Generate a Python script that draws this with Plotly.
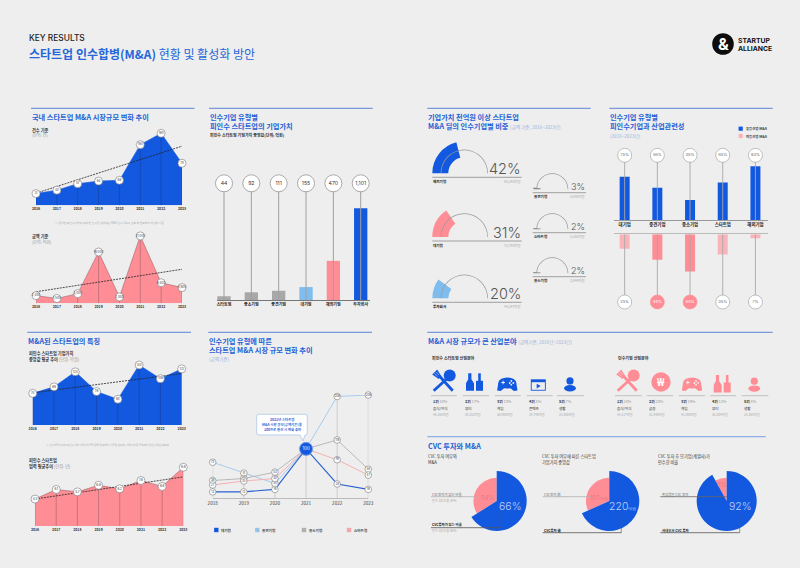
import plotly.graph_objects as go

# page size and colours
W, H = 800, 568
BG = "#eeeeee"
BLUE = "#1359e0"
PINK = "#ff8d96"
PINK_LT = "#f9b4ba"
SKY = "#7fbdee"
GRAY = "#a8a8a8"
HEAD = "#1f62d6"
RULE = "#5f84d8"
FONT = "Noto Sans CJK KR"

# data
years = [2016, 2017, 2018, 2019, 2020, 2021, 2022, 2023]
deal_count = [31, 40, 57, 64, 66, 160, 190, 111]
deal_count_trend = [32, 156]
deal_amount = [2400, 1500, 3000, 16000, 2000, 21000, 6400, 4900]
deal_amount_trend = [3600, 10600]
median_value = [74, 89, 124, 78, 60, 140, 108, 131]
median_value_trend = [75, 120]
founded_age = [4.5, 6.1, 5.7, 6.8, 6.2, 7.6, 6.6, 9.8]
founded_age_trend = [4.5, 8.2]

buyer_types = ["스타트업", "중소기업", "중견기업", "대기업", "해외기업", "투자회사"]
buyer_values = [44, 92, 111, 155, 470, 1101]
buyer_labels = ["44", "92", "111", "155", "470", "1,101"]

big_gauge_names = ["해외기업", "대기업", "투자회사"]
big_gauge_pct = [42, 31, 20]
big_gauge_amount = ["85,245억원", "73,745억원", "44,247억원"]
small_gauge_names = ["중견기업", "스타트업", "중소기업"]
small_gauge_pct = [3, 2, 2]
small_gauge_amount = ["5,840억원", "5,262억원", "3,844억원"]

relation_types = ["대기업", "중견기업", "중소기업", "스타트업", "해외기업"]
same_industry = [75, 56, 35, 65, 93]
other_industry = [25, 44, 64, 35, 7]

line_years = [2018, 2019, 2020, 2021, 2022, 2023]
large_corp = [13, 13, 18, 100, 29, 18]
mid_corp = [73, 51, 30, 100, 206, 209]
small_corp = [36, 40, 53, 100, 118, 59]
startup_corp = [27, 35, 40, 100, 78, 47]

target_rank = ["1위", "2위", "3위", "4위", "5위"]
target_share = ["10%", "17%", "13%", "8%", "7%"]
target_field = ["음식/외식", "뷰티", "게임", "콘텐츠", "생활"]
target_amount = ["46,265억원", "35,352억원", "36,908억원", "24,748억원", "25,086억원"]
buyer_share = ["24%", "20%", "19%", "12%", "8%"]
buyer_field = ["음식/외식", "금융", "게임", "뷰티", "생활"]
buyer_amount = ["54,217억원", "51,846억원", "41,888억원", "33,004억원", "25,505억원"]

cvc_share = [66, 34]
cvc_value = [220, 102]
cvc_parent = [92, 8]

fig = go.Figure()
annotations = []
shapes = []


def fx(x):
    return x / W


def fy(y):
    return 1 - y / H


def txt(x, y, text, size=4, color="#333333", bold=False, anchor="left", family=FONT, weight=None):
    if bold:
        text = "<b>" + text + "</b>"
    font = dict(size=size, color=color, family=family)
    if weight:
        font["weight"] = weight
    annotations.append(dict(x=fx(x), y=fy(y), xref="paper", yref="paper", text=text, showarrow=False,
                            xanchor=anchor, yanchor="middle", font=font, borderpad=0, align=anchor))


def rule(x0, x1, y, color="#777777", width=1.0):
    shapes.append(dict(type="line", xref="paper", yref="paper", x0=fx(x0), x1=fx(x1), y0=fy(y), y1=fy(y),
                       line=dict(color=color, width=width), layer="above"))


def seg(x0, y0, x1, y1, color, width):
    shapes.append(dict(type="line", xref="paper", yref="paper", x0=fx(x0), x1=fx(x1), y0=fy(y0), y1=fy(y1),
                       line=dict(color=color, width=width), layer="above"))


def poly(points, color):
    path = "M " + " L ".join(f"{fx(px):.5f},{fy(py):.5f}" for px, py in points) + " Z"
    shapes.append(dict(type="path", xref="paper", yref="paper", path=path, fillcolor=color,
                       line=dict(width=0), layer="above"))


def oval(cx, cy, rx, ry, color):
    shapes.append(dict(type="circle", xref="paper", yref="paper", x0=fx(cx - rx), x1=fx(cx + rx),
                       y0=fy(cy + ry), y1=fy(cy - ry), fillcolor=color, line=dict(width=0), layer="above"))


def box(x0, y0, x1, y1, color):
    poly([(x0, y0), (x1, y0), (x1, y1), (x0, y1)], color)


def axes(i, left, top, right, bottom, xopts, yopts):
    suffix = "" if i == 1 else str(i)
    base = dict(showgrid=False, zeroline=False, fixedrange=True, automargin=False)
    x = dict(base, domain=[fx(left), fx(right)], anchor="y" + suffix, **xopts)
    y = dict(base, domain=[fy(bottom), fy(top)], anchor="x" + suffix, showticklabels=False, ticks="", **yopts)
    fig.update_layout({"xaxis" + suffix: x, "yaxis" + suffix: y})
    return "x" + suffix, "y" + suffix


def stems(xs, tops, base=0):
    out_x, out_y = [], []
    for a, b in zip(xs, tops):
        out_x += [a, a, None]
        out_y += [base, b, None]
    return out_x, out_y


def circle_trace(xs, ys, labels, xa, ya, size, font_size, fill="white", font_color="#333333", edge="#777777"):
    return go.Scatter(x=xs, y=ys, xaxis=xa, yaxis=ya, mode="markers+text", text=labels,
                      textposition="middle center", textfont=dict(size=font_size, color=font_color, family="Inter"),
                      marker=dict(size=size, color=fill, line=dict(color=edge, width=0.6)),
                      cliponaxis=False, hoverinfo="skip", showlegend=False)


def area_panel(i, left, top, right, bottom, values, trend, fill, stem, edge, labels):
    tick = dict(size=3.5, color="#333333", family=FONT, weight="bold")
    xa, ya = axes(i, left, top, right, bottom,
                  dict(range=[2016, 2023], tickmode="array", tickvals=years, ticktext=[str(v) for v in years],
                       tickfont=tick, ticks="", tickangle=0, showline=False),
                  dict(range=[0, max(values)]))
    fig.add_trace(go.Scatter(x=years, y=values, xaxis=xa, yaxis=ya, mode="lines", fill="tozeroy", fillcolor=fill,
                             line=dict(color=edge, width=0.6), cliponaxis=False, hoverinfo="skip", showlegend=False))
    sx, sy = stems(years, values)
    fig.add_trace(go.Scatter(x=sx, y=sy, xaxis=xa, yaxis=ya, mode="lines", line=dict(color=stem, width=0.6),
                             cliponaxis=False, hoverinfo="skip", showlegend=False))
    fig.add_trace(go.Scatter(x=[years[0], years[-1]], y=trend, xaxis=xa, yaxis=ya, mode="lines",
                             line=dict(color="#222222", width=0.8, dash="2px,1px"),
                             cliponaxis=False, hoverinfo="skip", showlegend=False))
    fig.add_trace(circle_trace(years, values, labels, xa, ya, 8, 3))


# 국내 스타트업 M&A 시장규모 변화 추이
rule(31, 194.5, 108.3, RULE)
txt(31, 117, "국내 스타트업 M&A 시장규모 변화 추이", 7.2, HEAD, True)
txt(31, 130, "건수 기준", 4.2, "#333333", True)
txt(31, 135.3, "(단위: 건)", 4, "#999999")
area_panel(1, 36, 133.3, 182, 205.3, deal_count, deal_count_trend, BLUE, "#17409c", BLUE, [str(v) for v in deal_count])
txt(109, 222.7, "※ 동일한 피인수기업이 여러 번 인수된 경우에는 M&A 건수 1회로 산출 후 연도별로 합산함 기준", 2.8, "#aaaaaa", anchor="center")
txt(31, 236.7, "금액 기준", 4.2, "#333333", True)
txt(31, 242.3, "(단위: 억원)", 4, "#999999")
area_panel(2, 36, 235.9, 182, 303.3, deal_amount, deal_amount_trend, PINK, "#a0656c", "#a0656c",
           [f"{v:,}" for v in deal_amount])

# 인수기업 유형별 피인수 스타트업의 기업가치
rule(209, 372.7, 108.3, RULE)
txt(209, 117, "인수기업 유형별", 7.2, HEAD, True)
txt(209, 126, "피인수 스타트업의 기업가치", 7.2, HEAD, True)
txt(209, 135, "피인수 스타트업 기업가치 중앙값(단위: 억원)", 4, "#333333", True)
xa, ya = axes(3, 216.7, 183.3, 370, 300,
              dict(range=[-0.267, 5.34], type="category", categoryorder="array", categoryarray=buyer_types,
                   tickfont=dict(size=4, color="#222222", family=FONT, weight="bold"), ticks="", tickangle=0,
                   showline=True, linecolor="#777777", linewidth=0.8),
              dict(range=[0, 1400]))
fig.add_trace(go.Bar(x=buyer_types, y=buyer_values, xaxis=xa, yaxis=ya, width=0.487, hoverinfo="skip",
                     marker=dict(color=[GRAY, GRAY, GRAY, SKY, PINK, BLUE], line=dict(width=0)), showlegend=False))
sx, sy = stems(buyer_types, [1400] * len(buyer_types))
fig.add_trace(go.Scatter(x=sx, y=sy, xaxis=xa, yaxis=ya, mode="lines", line=dict(color="#a0a0a0", width=1),
                         hoverinfo="skip", showlegend=False, cliponaxis=False))
fig.add_trace(circle_trace(buyer_types, [1400] * len(buyer_types), buyer_labels, xa, ya, 17, 5.2))

# 기업가치 천억원 이상 스타트업 M&A 딜의 인수기업별 비중
rule(427.3, 590.7, 108.3, RULE)
txt(427.3, 117, "기업가치 천억원 이상 스타트업", 7.2, HEAD, True)
txt(427.3, 126, "M&A 딜의 인수기업별 비중 <span style=\"font-weight:normal;color:#9db3dd;font-size:4.6px\">(금액 기준, 2016~2023년)</span>", 7.2, HEAD, True)


def gauge(cx, cy, pct, color, r_band, hole, r_arc):
    for radius, hole_size, vals, cols in [
        (r_band, hole, [pct, 100 - pct, 100], [color, "rgba(0,0,0,0)", "rgba(0,0,0,0)"]),
        (r_arc, 1 - 0.7 / r_arc, [100, 100], ["#9a9a9a", "rgba(0,0,0,0)"]),
    ]:
        fig.add_trace(go.Pie(values=vals, hole=hole_size, rotation=270, direction="clockwise", sort=False,
                             textinfo="none", hoverinfo="skip", showlegend=False,
                             marker=dict(colors=cols, line=dict(width=0)),
                             domain=dict(x=[fx(cx - radius), fx(cx + radius)], y=[fy(cy + radius), fy(cy - radius)])))


for name, pct, amount, color, cy in zip(big_gauge_names, big_gauge_pct, big_gauge_amount,
                                        [BLUE, PINK, SKY], [173.3, 237, 298.3]):
    gauge(464.3, cy, pct, color, 32, 0.5, 23.7)
    rule(432.3, 521.7, cy + 4, "#8c8c8c", 0.8)
    txt(432.3, cy + 8.2, name, 3.6, "#222222", True)
    txt(521.7, cy + 8.2, amount, 3.4, "#aaaaaa", anchor="right")
    txt(521.7, cy - 5, f"{pct}%", 14.5, "#555555", anchor="right", family="Inter", weight=300)

for name, pct, amount, cy in zip(small_gauge_names, small_gauge_pct, small_gauge_amount, [189.3, 229.3, 273.3]):
    gauge(552.3, cy, pct, "#8a8a8a", 19, 0.62, 16)
    rule(532.7, 586, cy + 3.4, "#8c8c8c", 0.8)
    txt(532.7, cy + 6.8, name, 3.6, "#222222", True)
    txt(586, cy + 6.8, amount, 3.4, "#aaaaaa", anchor="right")
    txt(586, cy - 3.2, f"{pct}%", 9, "#555555", anchor="right", family="Inter", weight=300)

# 인수기업 유형별 피인수기업과 산업관련성
rule(609.3, 772.7, 108.3, RULE)
txt(609.3, 117, "인수기업 유형별", 7.2, HEAD, True)
txt(609.3, 126, "피인수기업과 산업관련성", 7.2, HEAD, True)
txt(609.3, 135.5, "(2016~2023년)", 4.6, "#9db3dd")
box(738.6, 126.6, 742.8, 130.8, BLUE)
txt(745, 128.7, "동종산업 M&A", 3.4, "#333333", True)
box(738.6, 133.9, 742.8, 138.1, PINK_LT)
txt(745, 136, "이종산업 M&A", 3.4, "#333333", True)

xa, ya = axes(4, 614.3, 155.3, 768.3, 220.3,
              dict(range=[-0.317, 4.394], type="category", categoryorder="array", categoryarray=relation_types,
                   tickfont=dict(size=4.4, color="#222222", family=FONT, weight="bold"), ticks="", tickangle=0,
                   showline=True, linecolor="#999999", linewidth=0.8),
              dict(range=[0, 112]))
fig.add_trace(go.Bar(x=relation_types, y=same_industry, xaxis=xa, yaxis=ya, width=0.306, hoverinfo="skip",
                     marker=dict(color=BLUE, line=dict(width=0)), showlegend=False))
sx, sy = stems(relation_types, [112] * 5)
fig.add_trace(go.Scatter(x=sx, y=sy, xaxis=xa, yaxis=ya, mode="lines", line=dict(color="#a8a8a8", width=0.9),
                         hoverinfo="skip", showlegend=False, cliponaxis=False))
fig.add_trace(circle_trace(relation_types, [112] * 5, [f"{v}%" for v in same_industry], xa, ya, 14, 4, font_color="#666666", edge="#999999"))

xa, ya = axes(5, 614.3, 234.3, 768.3, 302,
              dict(range=[-0.317, 4.394], type="category", categoryorder="array", categoryarray=relation_types,
                   side="top", showticklabels=False, ticks="", showline=True, linecolor="#bbbbbb", linewidth=0.8),
              dict(range=[116.7, 0]))
low_cols = [PINK if v > 40 else PINK_LT for v in other_industry]
fig.add_trace(go.Bar(x=relation_types, y=other_industry, xaxis=xa, yaxis=ya, width=0.306, hoverinfo="skip",
                     marker=dict(color=low_cols, line=dict(width=0)), showlegend=False))
sx, sy = stems(relation_types, [116.7] * 5)
fig.add_trace(go.Scatter(x=sx, y=sy, xaxis=xa, yaxis=ya, mode="lines", line=dict(color="#a8a8a8", width=0.9),
                         hoverinfo="skip", showlegend=False, cliponaxis=False))
fig.add_trace(go.Scatter(x=relation_types, y=[116.7] * 5, xaxis=xa, yaxis=ya, mode="markers+text",
                         text=[f"{v}%" for v in other_industry], textposition="middle center",
                         textfont=dict(size=4, color=["white" if v > 40 else "#666666" for v in other_industry], family="Inter"),
                         marker=dict(size=14, color=[PINK if v > 40 else "white" for v in other_industry],
                                     line=dict(color=[PINK if v > 40 else "#999999" for v in other_industry], width=0.6)),
                         cliponaxis=False, hoverinfo="skip", showlegend=False))

# M&A된 스타트업의 특징
rule(27.3, 191, 332.3, RULE)
txt(27.3, 341, "M&A된 스타트업의 특징", 7.2, HEAD, True)
txt(27.5, 353.7, "피인수 스타트업 기업가치", 4.2, "#333333", True)
txt(27.5, 359.3, "중앙값 평균 추이 <span style=\"font-weight:normal;color:#999999\">(단위: 억원)</span>", 4.2, "#333333", True)
area_panel(6, 32.7, 365, 181.7, 425, median_value, median_value_trend, BLUE, "#17409c", BLUE, [str(v) for v in median_value])
txt(108, 445.3, "※ 인수합병 당시의 피인수기업 기업가치 중앙값을 연도별로 평균한 값이며, 기업가치를 공개하지 않은 기업은 제외함", 2.6, "#aaaaaa", anchor="center")
txt(27.5, 460.3, "피인수 스타트업", 4.2, "#333333", True)
txt(27.5, 466, "업력 평균추이 <span style=\"font-weight:normal;color:#999999\">(단위: 년)</span>", 4.2, "#333333", True)
area_panel(7, 35, 467.3, 183.3, 526, founded_age, founded_age_trend, PINK, "#a0656c", "#a0656c", [str(v) for v in founded_age])

# 인수기업 유형에 따른 시장 규모 변화 추이
rule(208.3, 372, 332.3, RULE)
txt(208.3, 341, "인수기업 유형에 따른", 7.2, HEAD, True)
txt(208.3, 350, "스타트업 M&A 시장 규모 변화 추이", 7.2, HEAD, True)
txt(208.3, 359.3, "(금액기준)", 4.6, "#9db3dd")
xa, ya = axes(8, 212.7, 395, 368.3, 498.3,
              dict(range=[2018, 2023], tickmode="array", tickvals=line_years, ticktext=[str(v) for v in line_years],
                   tickfont=dict(size=4.6, color="#444444", family=FONT), ticks="", tickangle=0,
                   showline=True, linecolor="#bbbbbb", linewidth=0.8),
              dict(range=[0, 209]))
tops = [max(vals) for vals in zip(large_corp, mid_corp, small_corp, startup_corp)]
sx, sy = stems(line_years, tops)
fig.add_trace(go.Scatter(x=sx, y=sy, xaxis=xa, yaxis=ya, mode="lines", line=dict(color="#c4c4c4", width=0.8),
                         cliponaxis=False, hoverinfo="skip", showlegend=False))
for vals, color, width in [(mid_corp, "#a5cbec", 1), (small_corp, "#b8b8b8", 1),
                           (startup_corp, "#f5b0b3", 1), (large_corp, "#2a63cf", 1.1)]:
    fig.add_trace(go.Scatter(x=line_years, y=vals, xaxis=xa, yaxis=ya, mode="lines",
                             line=dict(color=color, width=width), cliponaxis=False, hoverinfo="skip", showlegend=False))
for vals in [mid_corp, small_corp, startup_corp, large_corp]:
    fig.add_trace(circle_trace(line_years, vals, [str(v) for v in vals], xa, ya, 6.6, 2.8))
fig.add_trace(go.Scatter(x=[2021], y=[100], xaxis=xa, yaxis=ya, mode="markers+text", text=["100"],
                         textposition="middle center", textfont=dict(size=4.4, color="white", family="Inter"),
                         marker=dict(size=13, color=BLUE, line=dict(color="#6f9be8", width=1)),
                         cliponaxis=False, hoverinfo="skip", showlegend=False))
# callout
cx0, cx1, cy0, cy1 = 256.7, 307.3, 414.3, 435
P = lambda a, b: f"{fx(a):.5f},{fy(b):.5f}"
path = (f"M {P(cx0 + 2, cy0)} L {P(cx1 - 2, cy0)} Q {P(cx1, cy0)} {P(cx1, cy0 + 2)} L {P(cx1, cy1 - 2)} "
        f"Q {P(cx1, cy1)} {P(cx1 - 2, cy1)} L {P(305, cy1)} L {P(303, 441)} L {P(300, cy1)} L {P(cx0 + 2, cy1)} "
        f"Q {P(cx0, cy1)} {P(cx0, cy1 - 2)} L {P(cx0, cy0 + 2)} Q {P(cx0, cy0)} {P(cx0 + 2, cy0)} Z")
shapes.append(dict(type="path", xref="paper", yref="paper", path=path, fillcolor="white",
                   line=dict(color="#a9c6ea", width=0.8), layer="above"))
txt(282, 419.3, "2021년 스타트업", 3.4, HEAD, True, "center")
txt(282, 424.6, "M&A 시장 규모(금액기준)를", 3.4, HEAD, True, "center")
txt(282, 429.9, "100으로 환산 시 변화 추이", 3.4, HEAD, True, "center")
for sq_x, color, name in [(216.3, BLUE, "대기업"), (257.3, "#94c4ec", "중견기업"),
                          (304, "#b0b0b0", "중소기업"), (349, "#f2a7ac", "스타트업")]:
    box(sq_x - 2.2, 527.8, sq_x + 2.2, 532.2, color)
    txt(sq_x + 4, 530, name, 3.6, "#444444", True)


# 아이콘
def icon_food(x, y, c):
    seg(x - 7, y - 8, x + 9, y + 9.7, c, 2.8)
    poly([(x - 11.5, y - 6.5), (x - 6.5, y - 11.5), (x - 2.5, y - 5), (x - 5, y - 2)], c)
    seg(x - 9.5, y - 8, x - 6, y - 4.5, BG, 0.5)
    seg(x - 8, y - 9.5, x - 4.5, y - 6, BG, 0.5)
    oval(x + 6, y - 5.5, 6, 6, c)
    seg(x + 4, y - 3, x - 10, y + 9.7, c, 2.8)


def icon_bottle(x, y, c):
    poly([(x - 6.8, y - 9), (x - 3.6, y - 9), (x - 3.6, y - 3), (x - 1, y + 1), (x - 1, y + 8.5),
          (x - 9, y + 8.5), (x - 9, y + 1), (x - 6.8, y - 3)], c)
    box(x + 3.2, y - 9, x + 5.8, y - 1, c)
    box(x + 1, y - 1.5, x + 8, y + 8.5, c)


def icon_game(x, y, c):
    oval(x, y - 1, 9, 5.6, c)
    poly([(x - 9, y - 1), (x - 10.2, y + 6.5), (x - 6.5, y + 7), (x - 2.4, y + 3.4), (x + 2.4, y + 3.4),
          (x + 6.5, y + 7), (x + 10.2, y + 6.5), (x + 9, y - 1)], c)
    box(x - 6, y - 2, x - 2.4, y - 1, BG)
    box(x - 4.7, y - 3.3, x - 3.7, y + 0.3, BG)
    oval(x + 4, y - 3, 0.9, 0.9, BG)
    oval(x + 6, y - 1, 0.9, 0.9, BG)
    oval(x + 2.4, y - 1, 0.9, 0.9, BG)
    oval(x + 4, y + 0.7, 0.9, 0.9, BG)


def icon_video(x, y, c):
    box(x - 7.5, y - 5.7, x + 7.5, y + 5.7, c)
    box(x - 6.6, y - 2.8, x + 6.6, y + 4.8, BG)
    poly([(x - 1.6, y - 1.3), (x - 1.6, y + 3.4), (x + 2.4, y + 1)], c)


def icon_person(x, y, c):
    oval(x, y - 3.8, 3.6, 3.6, c)
    oval(x, y + 3.6, 5.9, 3.2, c)


def icon_coin(x, y, c):
    oval(x, y, 9.7, 9.7, c)
    txt(x, y, "₩", 10, "white", True, "center", family="Noto Sans")


# M&A 시장 규모가 큰 산업분야
rule(427.3, 772.7, 332.3, RULE)
txt(427.3, 341, "M&A 시장 규모가 큰 산업분야 <span style=\"font-weight:normal;color:#9db3dd;font-size:4.6px\">(금액기준, 2016년~2023년)</span>", 7.2, HEAD, True)
txt(431, 357.7, "피인수 스타트업 산업분야", 4, "#333333", True)
txt(617.3, 357.7, "인수기업 산업분야", 4, "#333333", True)


def rank_row(icons, lefts, rights, shares, fields, amounts):
    for (draw, ix, iy, col), x0, x1, rank, share, field, amount in zip(icons, lefts, rights, target_rank, shares, fields, amounts):
        draw(ix, iy, col)
        rule(x0, x1, 395.7, "#b5b5b5", 0.8)
        txt(x0 + 1.2, 402, f"<b>{rank}</b> <span style=\"color:#999999\">{share}</span>", 3.8, "#333333")
        txt(x0 + 1.2, 408, field, 3.6, "#333333")
        txt(x0 + 1.2, 414, amount, 3.2, "#aaaaaa")


rank_row([(icon_food, 443.7, 381, BLUE), (icon_bottle, 475, 382.3, BLUE), (icon_game, 507.3, 384, BLUE),
          (icon_video, 538.3, 385, BLUE), (icon_person, 570, 384.7, BLUE)],
         [431, 462.7, 494.7, 526.7, 557], [456.7, 489.3, 520.7, 552.7, 584],
         target_share, target_field, target_amount)
rank_row([(icon_food, 627.7, 381, PINK), (icon_coin, 661, 382, PINK), (icon_game, 692, 384, PINK),
          (icon_bottle, 722.7, 384, PINK), (icon_person, 754.3, 385, PINK)],
         [615, 646.7, 678.7, 710, 741.7], [641.7, 673.3, 705, 736, 768.3],
         buyer_share, buyer_field, buyer_amount)

# CVC 투자와 M&A
rule(427.3, 765.7, 436.7, "#8fb0e6", 1.2)
txt(427.3, 445.7, "CVC 투자와 M&A", 7.2, HEAD, True)
txt(427.3, 456, "CVC 투자 여부와", 4.2, "#333333")
txt(427.3, 462, "M&A", 4.2, "#333333")
txt(540.7, 456, "CVC 투자 여부에 따른 스타트업", 4.2, "#333333")
txt(540.7, 462, "기업가치 중앙값", 4.2, "#333333")
txt(657.3, 456, "CVC 투자 후 모기업(계열사)가", 4.2, "#333333")
txt(657.3, 462, "인수한 비율", 4.2, "#333333")


def split_pie(cx, vals, r_small):
    for radius, cols in [(r_small, ["rgba(0,0,0,0)", PINK]), (30, [BLUE, "rgba(0,0,0,0)"])]:
        fig.add_trace(go.Pie(values=vals, sort=False, direction="clockwise", rotation=0, textinfo="none",
                             hoverinfo="skip", showlegend=False, marker=dict(colors=cols, line=dict(width=0)),
                             domain=dict(x=[fx(cx - radius), fx(cx + radius)], y=[fy(501 + radius), fy(501 - radius)])))


split_pie(496.7, cvc_share, 23.3)
split_pie(609.3, cvc_value, 23.3)
split_pie(726.7, cvc_parent, 23.3)

txt(510, 506, f"{cvc_share[0]}%", 10.5, "#b9cff5", anchor="center", family="Inter", weight=300)
txt(487, 497.3, f"{cvc_share[1]}%", 6, "#e3727c", anchor="center", family="Inter", weight=300)
txt(622, 506, f"{cvc_value[0]}<span style=\"font-size:3.6px\">억원</span>", 10.5, "#b9cff5", anchor="center", family="Inter", weight=300)
txt(599, 497.3, f"{cvc_value[1]}<span style=\"font-size:3.6px\">억원</span>", 6, "#e3727c", anchor="center", family="Inter", weight=300)
txt(740, 506, f"{cvc_parent[0]}%", 10.5, "#b9cff5", anchor="center", family="Inter", weight=300)
txt(721, 484, f"{cvc_parent[1]}%", 6, "#e3727c", anchor="center", family="Inter", weight=300)

rule(431, 478, 496.7, "#b0b0b0", 0.8)
txt(431.3, 494, "CVC투자가 없는 비율", 3.4, "#666666")
txt(431.3, 500, "인수 2015 중 34%", 3.2, "#aaaaaa")
rule(431, 501.3, 527.7, "#555555", 0.8)
seg(501.3, 527.7, 501.3, 508.3, "#555555", 0.6)
txt(431.3, 524.3, "CVC투자가 있는 비율", 3.4, "#222222", True)
txt(431.3, 530.7, "인수 2015 중 66%", 3.2, "#aaaaaa")

rule(542.7, 591, 496.7, "#b0b0b0", 0.8)
txt(543, 494, "CVC투자 前", 3.4, "#666666")
rule(542.7, 621.3, 532.7, "#555555", 0.8)
seg(621.3, 532.7, 621.3, 511.7, "#555555", 0.6)
txt(543, 530, "CVC투자 後", 3.4, "#222222", True)

rule(660.3, 726.7, 496.7, "#666666", 0.8)
txt(660.6, 494, "독립법인 CVC 투자", 3.4, "#666666")
rule(660.3, 739.7, 532.7, "#555555", 0.8)
seg(739.7, 532.7, 739.7, 511.7, "#555555", 0.6)
txt(660.6, 530, "사내부서 CVC 투자", 3.4, "#222222", True)

# 제목과 로고
txt(28, 38, "KEY RESULTS", 8.4, "#222222", family="Inter", weight=500)
txt(27.5, 53.5, "<b>스타트업 인수합병(M&A)</b> 현황 및 활성화 방안", 12, "#2467d8")
oval(723, 44, 10.8, 10.8, "#0c0c0c")
txt(723, 44, "&", 16, "white", True, "center", family="Inter")
txt(737.3, 40.3, "STARTUP", 6.8, "#111111", True, family="Inter")
txt(737.3, 48.3, "ALLIANCE", 6.8, "#111111", True, family="Inter")

fig.update_layout(width=W, height=H, margin=dict(l=0, r=0, t=0, b=0), autosize=False,
                  paper_bgcolor=BG, plot_bgcolor="rgba(0,0,0,0)", barmode="overlay", showlegend=False,
                  annotations=annotations, shapes=shapes, font=dict(family=FONT))

fig.write_html("out.html", post_script="document.body.style.margin='0';document.body.style.background='#eeeeee';",
               config=dict(displayModeBar=False))
